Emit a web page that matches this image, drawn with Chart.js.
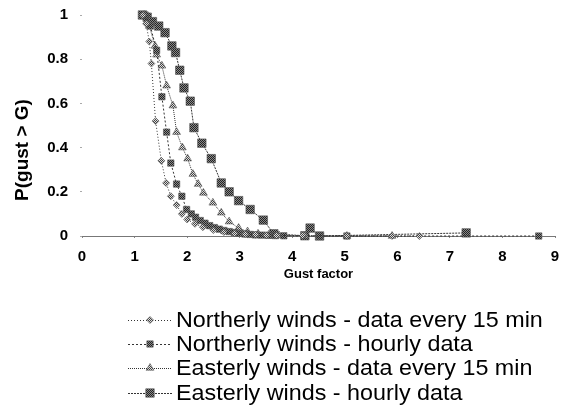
<!DOCTYPE html>
<html>
<head>
<meta charset="utf-8">
<script src="https://cdn.jsdelivr.net/npm/chart.js@4/dist/chart.umd.min.js"></script>
<style>
  html, body { margin: 0; padding: 0; background: #fff; }
  #wrap { width: 575px; height: 414px; }
</style>
</head>
<body>
<div id="wrap"><canvas id="chart" width="575" height="414"></canvas></div>
<script>
// ---- data: [gust factor, P(gust > G)] ----
var SERIES_NAMES = [
    "Northerly winds - data every 15 min",
    "Northerly winds - hourly data",
    "Easterly winds - data every 15 min",
    "Easterly winds - hourly data"
];

var NORTH_15MIN = [
    [1.16, 1.00], [1.22, 0.96], [1.28, 0.88], [1.32, 0.78], [1.40, 0.52],
    [1.51, 0.34], [1.60, 0.24], [1.69, 0.18], [1.80, 0.14], [1.90, 0.10],
    [2.00, 0.075], [2.15, 0.055], [2.30, 0.04], [2.50, 0.027], [2.70, 0.018],
    [2.90, 0.012], [3.10, 0.008], [3.30, 0.005], [3.50, 0.003], [3.70, 0.002],
    [4.20, 0.001], [5.04, 0], [5.90, 0], [6.42, 0]
];

var NORTH_HOURLY = [
    [1.20, 1.00], [1.30, 0.95], [1.42, 0.84], [1.52, 0.63], [1.61, 0.47],
    [1.69, 0.33], [1.80, 0.235], [1.90, 0.18], [1.99, 0.12], [2.08, 0.10],
    [2.16, 0.085], [2.25, 0.07], [2.34, 0.058], [2.43, 0.047], [2.52, 0.038],
    [2.61, 0.031], [2.70, 0.025], [2.80, 0.02], [2.90, 0.016], [3.00, 0.012],
    [3.10, 0.009], [3.20, 0.007], [3.30, 0.005], [3.42, 0.004], [3.55, 0.003],
    [3.68, 0.002], [3.84, 0.001], [4.52, 0], [5.04, 0], [8.69, 0]
];

var EAST_15MIN = [
    [1.18, 1.00], [1.28, 0.95], [1.39, 0.86], [1.42, 0.82], [1.52, 0.77],
    [1.61, 0.68], [1.73, 0.59], [1.80, 0.47], [1.91, 0.40], [2.01, 0.35],
    [2.11, 0.28], [2.21, 0.235], [2.31, 0.195], [2.49, 0.15], [2.65, 0.105],
    [2.80, 0.065], [2.98, 0.036], [3.15, 0.02], [3.35, 0.01], [3.55, 0.005],
    [3.75, 0.002], [4.24, 0.001], [5.04, 0], [5.90, 0]
];

var EAST_HOURLY = [
    [1.15, 1.00], [1.24, 0.99], [1.34, 0.97], [1.46, 0.95], [1.58, 0.92],
    [1.71, 0.86], [1.78, 0.83], [1.86, 0.75], [1.94, 0.67], [2.06, 0.61],
    [2.13, 0.49], [2.28, 0.42], [2.46, 0.35], [2.65, 0.24], [2.80, 0.20],
    [2.98, 0.16], [3.20, 0.12], [3.45, 0.072], [3.65, 0.01], [4.24, 0.001],
    [4.34, 0.036], [4.52, 0], [7.31, 0.014]
];

var X_TICKS = [0, 1, 2, 3, 4, 5, 6, 7, 8, 9];
var Y_TICKS = [0, 0.2, 0.4, 0.6, 0.8, 1];

// ---- marker fill: small checker pattern like the printed markers ----
function makeChecker(dark, light) {
    var c = document.createElement("canvas");
    c.width = 2; c.height = 2;
    var g = c.getContext("2d");
    g.fillStyle = light; g.fillRect(0, 0, 2, 2);
    g.fillStyle = dark;  g.fillRect(0, 0, 1, 1); g.fillRect(1, 1, 1, 1);
    return g.createPattern(c, "repeat");
}
var ctx = document.getElementById("chart").getContext("2d");
var checkDark  = makeChecker("#222", "#888");
var checkLight = makeChecker("#444", "#ddd");

function toPoints(arr) {
    return arr.map(function (p) { return { x: p[0], y: p[1] }; });
}

var STYLES = [
    { data: NORTH_15MIN,  shape: "rectRot",  radius: 3.5, fill: checkLight, dash: [1, 2] },
    { data: NORTH_HOURLY, shape: "rect",     radius: 4.5, fill: checkDark,  dash: [2, 2] },
    { data: EAST_15MIN,   shape: "triangle", radius: 4.5, fill: checkLight, dash: [1, 1] },
    { data: EAST_HOURLY,  shape: "rect",     radius: 6,   fill: checkDark,  dash: [2, 1] }
];

var datasets = STYLES.map(function (s, i) {
    return {
        label: SERIES_NAMES[i],
        data: toPoints(s.data),
        showLine: true,
        borderColor: "#333",
        borderWidth: 1,
        borderDash: s.dash,
        pointStyle: s.shape,
        pointRadius: s.radius,
        pointBackgroundColor: s.fill,
        pointBorderColor: "#555",
        pointBorderWidth: 0.6
    };
});

// legend + y title drawn by hand (Excel-style, left aligned block)
var excelBits = {
    id: "excelBits",
    afterDraw: function (chart) {
        var c = chart.ctx;
        // y axis title
        c.save();
        c.translate(23, 150);
        c.rotate(-Math.PI / 2);
        c.font = "bold 19px 'Liberation Sans', Arial, sans-serif";
        c.fillStyle = "#000";
        c.textAlign = "center";
        c.textBaseline = "middle";
        c.fillText("P(gust > G)", 0, 0);
        c.restore();

        // legend
        var rows = [320, 344, 368, 393];
        chart.data.datasets.forEach(function (ds, i) {
            var y = rows[i];
            c.save();
            c.strokeStyle = ds.borderColor;
            c.lineWidth = 1;
            c.setLineDash(ds.borderDash);
            c.beginPath();
            c.moveTo(128, y + 0.5);
            c.lineTo(172, y + 0.5);
            c.stroke();
            c.setLineDash([]);
            c.fillStyle = ds.pointBackgroundColor;
            c.strokeStyle = ds.pointBorderColor;
            c.lineWidth = ds.pointBorderWidth;
            Chart.helpers.drawPoint(c, { pointStyle: ds.pointStyle, radius: ds.pointRadius, borderWidth: ds.pointBorderWidth }, 150, y);
            c.translate(176, y + 1);
            c.scale(1.06, 1);
            c.fillStyle = "#000";
            c.font = "22px 'Liberation Sans', Arial, sans-serif";
            c.textAlign = "left";
            c.textBaseline = "middle";
            c.fillText(ds.label, 0, 0);
            c.restore();
        });
    }
};

new Chart(ctx, {
    type: "scatter",
    data: { datasets: datasets },
    plugins: [excelBits],
    options: {
        responsive: false,
        animation: false,
        clip: false,
        layout: { autoPadding: false, padding: { left: 0, right: 20, top: 15, bottom: 132 } },
        plugins: {
            legend: { display: false },
            tooltip: { enabled: false }
        },
        scales: {
            x: {
                type: "linear",
                min: 0, max: 9,
                afterBuildTicks: function (scale) {
                    scale.ticks = X_TICKS.map(function (v) { return { value: v }; });
                },
                afterFit: function (scale) {
                    scale.height = 46;
                    scale.paddingLeft = 0;
                    scale.paddingRight = 0;
                },
                border: { display: true, color: "#777", width: 1 },
                grid: { drawOnChartArea: false, drawTicks: true, tickLength: 2, color: "#888" },
                ticks: {
                    color: "#000",
                    padding: 10,
                    maxRotation: 0,
                    font: { family: "'Liberation Sans', Arial, sans-serif", size: 15, weight: "bold" }
                },
                title: {
                    display: true,
                    text: "Gust factor",
                    color: "#000",
                    padding: { top: 0, bottom: 0 },
                    font: { family: "'Liberation Sans', Arial, sans-serif", size: 13, weight: "bold" }
                }
            },
            y: {
                type: "linear",
                min: 0, max: 1,
                afterBuildTicks: function (scale) {
                    scale.ticks = Y_TICKS.map(function (v) { return { value: v }; });
                },
                afterFit: function (scale) {
                    scale.width = 82;
                    scale.paddingTop = 0;
                    scale.paddingBottom = 0;
                },
                border: { display: false },
                grid: { drawOnChartArea: false, drawTicks: true, tickLength: 2, color: "#aaa" },
                ticks: {
                    color: "#000",
                    padding: 12,
                    callback: function (v) { return String(Math.round(v * 10) / 10); },
                    font: { family: "'Liberation Sans', Arial, sans-serif", size: 15, weight: "bold" }
                }
            }
        }
    }
});
</script>
</body>
</html>
